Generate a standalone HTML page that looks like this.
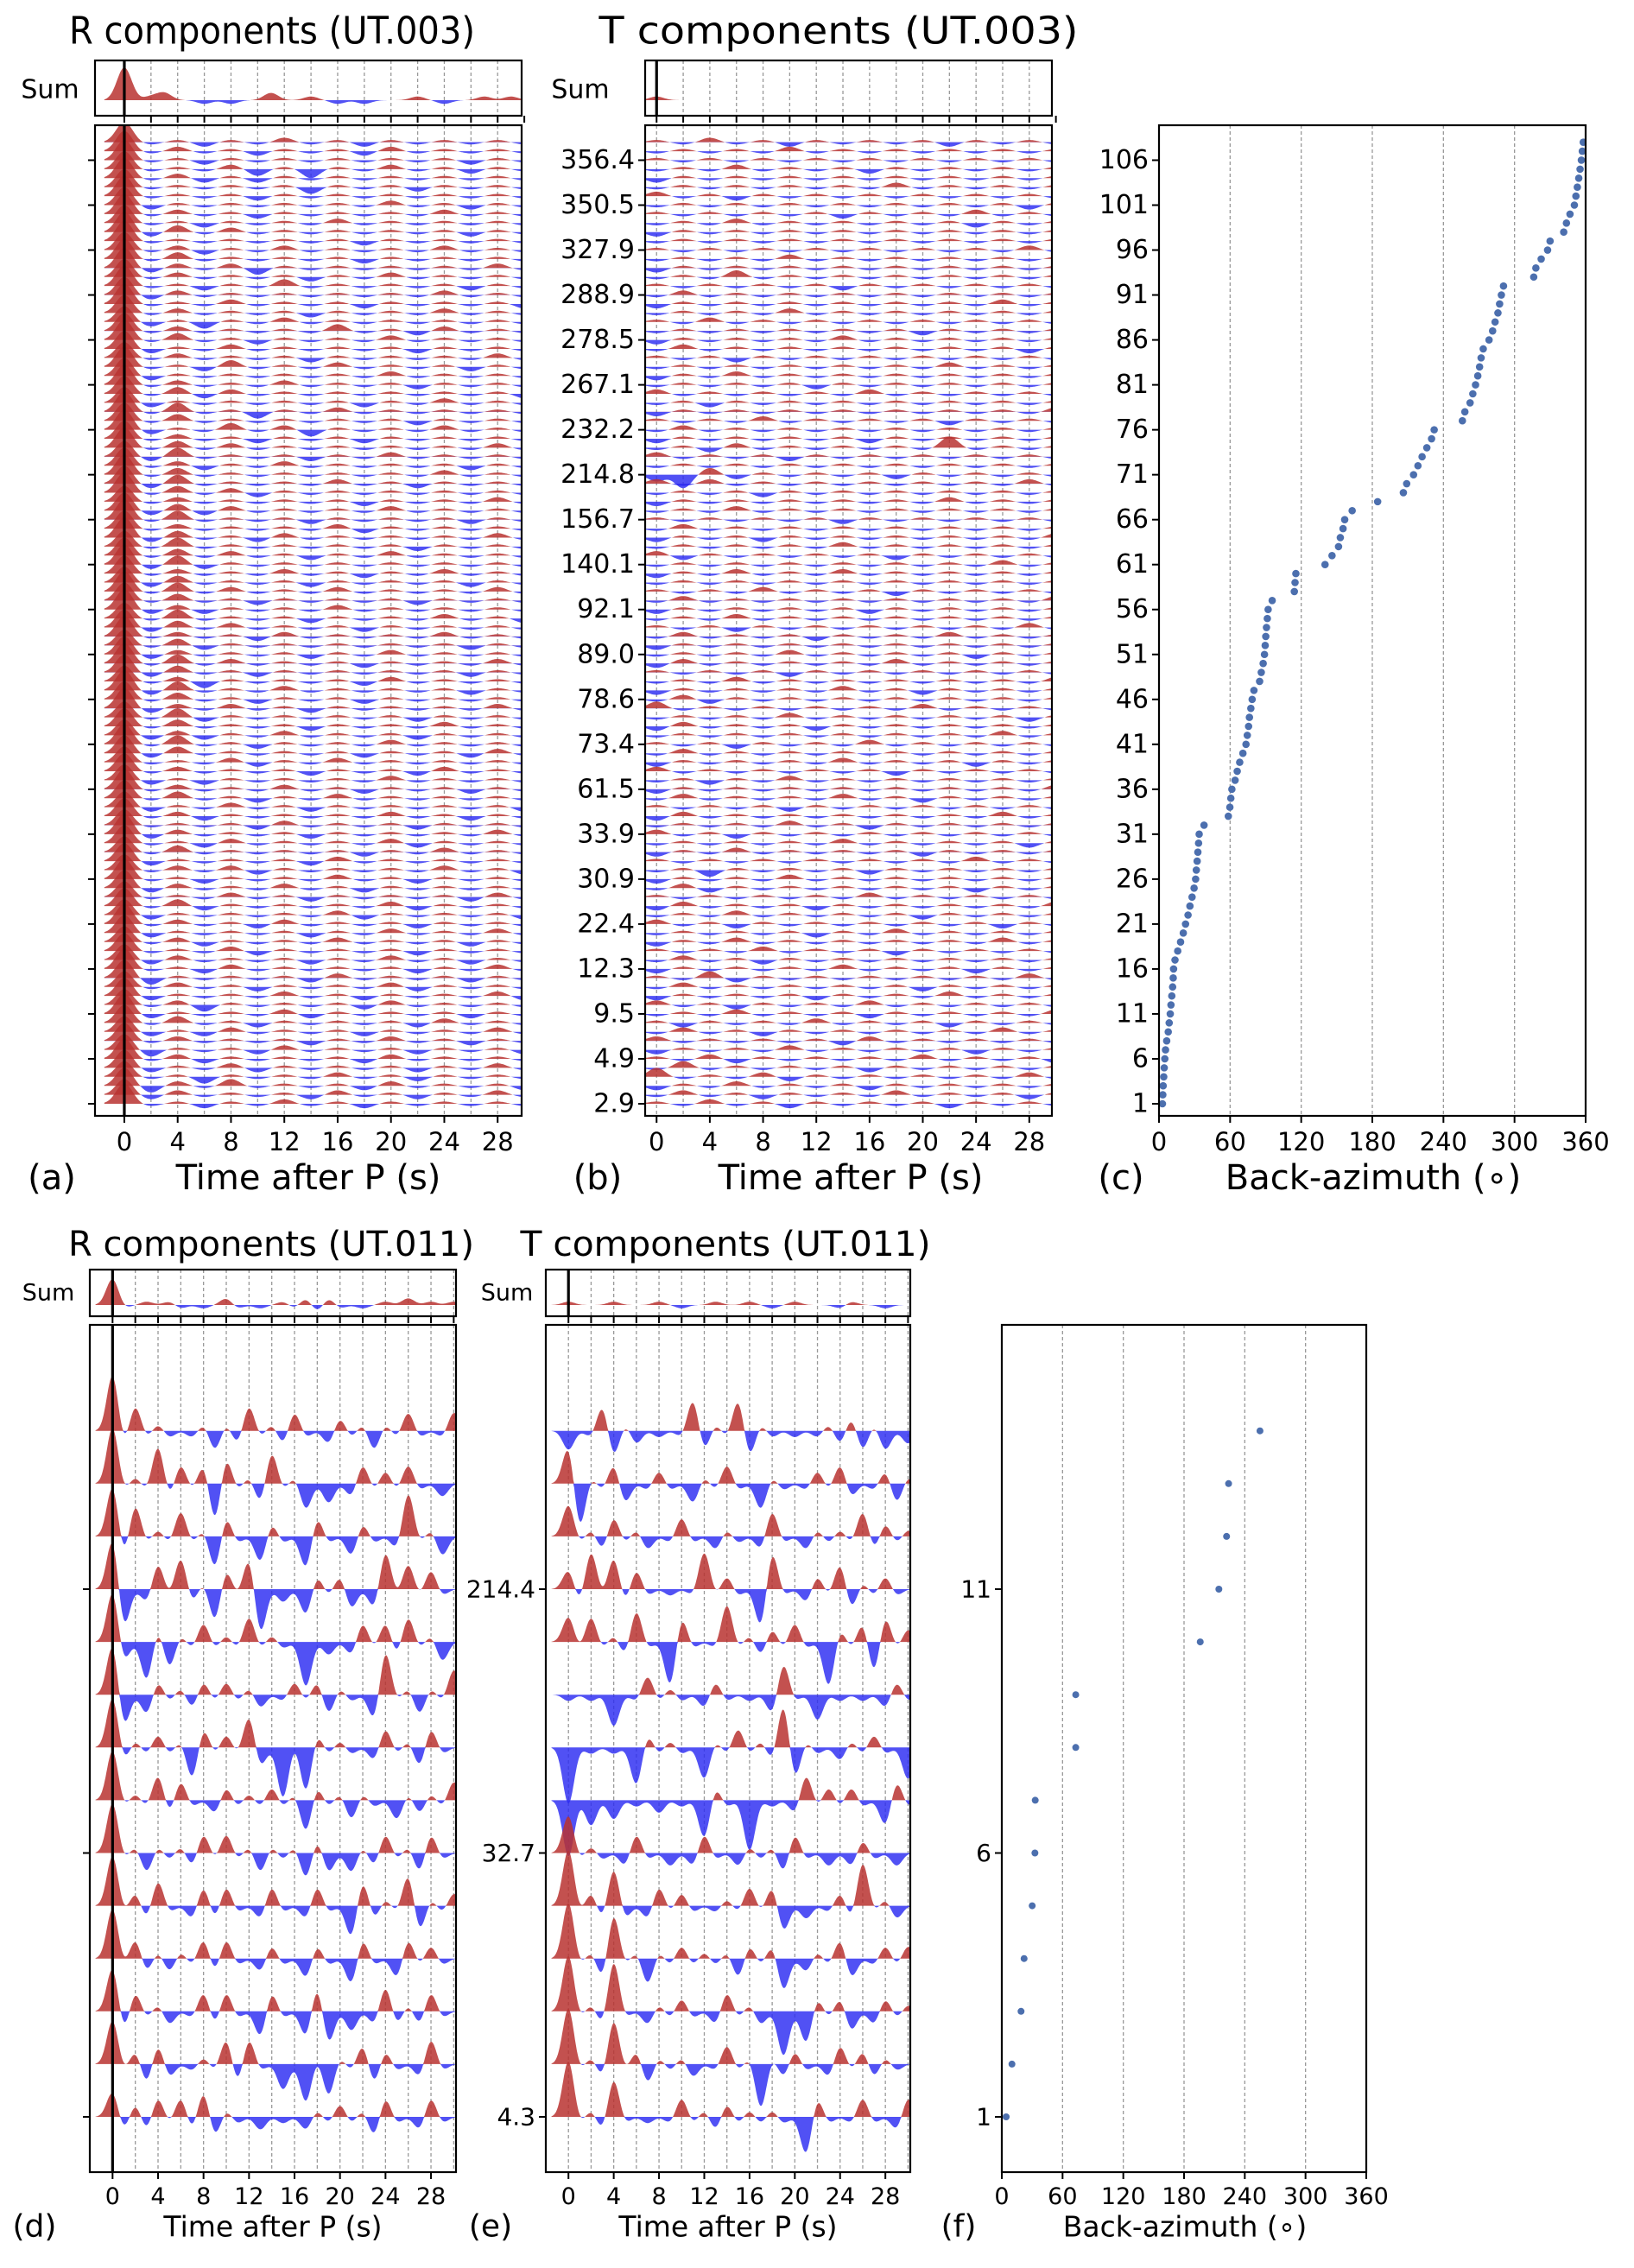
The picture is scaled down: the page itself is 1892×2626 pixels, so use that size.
<!DOCTYPE html>
<html><head><meta charset="utf-8">
<style>
html,body{margin:0;padding:0;background:#fff;}
svg{display:block;font-family:"DejaVu Sans","Liberation Sans",sans-serif;}
</style></head>
<body>
<svg id="fig" width="1892" height="2626" viewBox="0 0 1892 2626" xmlns="http://www.w3.org/2000/svg"></svg>
<script>
// ---------- DATA ----------
// Back-azimuths (deg) for UT.003 traces, index 1..N
const bazTop = [2.9,3.2,3.5,4.0,4.4, 4.9,5.5,6.5,7.8,8.6, 9.5,10.1,10.8,11.5,12.0,
 12.3,13.5,15.8,18.2,20.5, 22.4,24.5,26.1,27.9,29.6, 30.9,31.5,32.2,32.8,33.4,
 33.9,38.0,58.5,59.8,60.6, 61.5,64.2,66.0,68.1,70.8, 73.4,74.5,75.6,76.3,77.5,
 78.6,80.1,84.9,86.3,87.9, 89.0,89.6,90.1,90.7,91.4, 92.1,95.5,114.2,114.8,115.5,
 140.1,146.0,151.5,153.0,155.3, 156.7,163.0,184.5,206.2,209.0, 214.8,218.5,222.0,226.0,230.0,
 232.2,256.0,258.1,262.5,264.8, 267.1,269.0,270.5,271.8,273.6, 278.5,281.5,283.6,286.0,287.4,
 288.9,290.7,316.2,318.0,322.5, 327.9,330.0,341.5,343.8,346.8, 350.5,351.8,353.0,354.2,355.3,
 356.4,357.2,358.0];
// Back-azimuths for UT.011 traces
const bazBot = [4.3,10,19,22,30,32.7,33,73,73,196,214.4,222,224,255];
// Waveform codes: each char = pulse amplitude at grid time (0 none, 1-9 positive, a-i negative)
// UT.003 radial, 2 s grid (t=0,2,...,30), index 1..108
const rTop = ("9a1b1a2a1b1a1a1a 7b2a1a1b2a1b1a2a 8c2a3a1a1b2a1a1b 7a1c1a1a2a1b1a1a 8b1a2b1a1a1b1a2a "+
"9a2b1a1a1b2a1a1a 7c1a1b2a1a1b1a1b 8a2a1a1b1a2a1b1a 7b1b2a1a1b1a1a2a 8a3a1b1a1a1b2a1a "+
"9b1a1a2b1a1a1b1a 7a2c1a1a1b2a1a1a 8b1a1a2a1b1a1a2b 7a2a1b1a1a2b1a1a 8c1a1a1b2a1a1b1a "+
"9a1b2a1a1a1b1a2a 7b2a1a1b1a2a1b1a 8a1a2b1a1a1b1a1a 7a2b1a1a2a1a1b1a 8b1a1a1b1a2a1a2a "+
"9a2a1b2a1a1b1a1a 7b1a1a1a2b1a1a1b 8a3b1a1a1a2b1a1a 7a1a2a1b1a1a1b2a 8b2a1a2a1b1a1a1a "+
"9a1b1a1a2a1b1a1a 7a2a2b1a1a1a2a1b 8b1a1a1b2a1a1a1a 7a3a1a1a1b1a2a1a 8a1b2a1a1a2b1a1a "+
"9b2a1a1b1a1a1a2a 7a1a1b2a1a1b1a1a 8a2b1a1a1a2a1b1a 7b1a2a1b1a1a1a1b 8a3a1b1a2a1a1a1a "+
"9a2a1a2a1b1a1b1a 7b1b1a1a1a2a1a1a 8a2a1a1b1a1b2a1a 7a1a2b1a2a1a1a1a 8b3a1a1a1b1a1b2a "+
"9a4a1b1a1a2a1a1a 7b2b1a2a1a1b1a1a 8a3a1a1b1a1a2a1a 7a4b1a1a1a1b1a1a 9b2a2a1b1a1a1a2a "+
"8a3a1b1a1b1a1a1a 9b4a1a2a1a1a1b1a 7a2c1a1a1b2a1a1a 8b3a1b1a1a1a1b1a 9a4a2a1a1b1a1a2a "+
"8b2a1a1b1a2a1a1a 7a3b1a1a1a1a1b1a 9a2a1b2a1a1a2a1a 8b3a2a1a1b1a1a1a 7a4a1a1b1a1a2a1b "+
"9b2b1a1a2a1a1a1a 8a3a1b1a1a1b1a1a 9a4a2a1a2a1a1a2a 7b3a1a1b1a1a1b1a 8a2a1a2a1b1a2a1a "+
"9b4b1a1a1a1a1a1a 8a3a2a1b1a2a1a1a 7a4a1a1a1a1b1a1a 9b3a1b2a1a1a1a2a 8a2a1a1a2b1a1a1a "+
"9a4a1a1b1a1a1b1a 8b3b2a1a1a2a1a1a 7a2a1a1a1b1a1a2a 9a3a2b1a1a1a1a1a 8b4a1a1a2a1b1a1a "+
"9a3a1a1a1a1a2a1a 8a2b1a2a1a1a1b1a 7b4a1a1b1a2a1a1a 9a3a2a1a1a1a1a2a 8a2a1b1a1b1a1a1a "+
"9b1a3a2c1a1a2a1a 8a3a1a1a1a1b1a1a 9a4a1c1a2a1a1a1a 7b1a1a1a1b1a2a1a 8a3b2a1a1a1a1a1b "+
"9a2a1a2a1a1b1a1a 8b1a1a1a1a2a1a1a 9a1b3a1a2a1a1b1a 7a2a1a1b1a1a1a2a 8b1a2a1a1a1b1a1a "+
"9a3a1b1a1a2a1a1a 8a2a1a1a3a1b2a1a 7b1c1a2a1a1a1a1a 8a2a1a1b1a1a2a1a 9a1a2a1a1b1a1a1b "+
"8b2a1a1a1a1a2a1a 9a1b1a3a1a1a1b1a 8a2a1a1b1a2a1a1a 9b2a2c1a1a1a1a2a 9a3a1a1a1b1a1a1a "+
"8a2b1a2a1a1a2a1a 9a1a1a1a1b1a1a1a 9b3a2a1a1a1a1b1a 8a1b1a1a2a1a1a1a 9a2a1b1a1a1a2a1a "+
"8b1a1a1a1a2a1b1a 9a1a1b1a1a1a1a1a 8a1a1a1c1a1b1a1a 9a2b1b1a1a1a1a1a 8a1a2c1d1a2a1b1a "+
"9a1b1a1a1a1a1b1a 9a2a1b1a1b2a1a1a").split(' ');
// UT.003 transverse, 2 s grid
const tTop = ("1a2a1b1a1a1b1a1a a2a1b1a1a2a1a1b1 b1a2a1a1b1a1a1a1 4a1a2b1a1a1a1a2a a3a1a1a1b1a1a1a1 "+
"1a2b1a1a1a2a1a1b b1a1a2a1a1a1b1a1 2a1a1a1b2a1a1a1a a2a1b1a1a1a1a2a1 1b1a1a2a1a1b1a1a "+
"a1a2a1a1b1a1a1a2 2a1b1a1a2a1a1a1a b1a1a1b1a1a2a1a1 a2a1a1a1a1b1a1a1 1a3b1a1a1a1a1a2a "+
"b1a1a1a2a1a1b1a1 a2a1b1a1a1a1a1a1 1a1a2a1a1b1a1a1a b1a2a1a1a1a1a2a1 a1a1a1b1a2a1a1a1 "+
"2a1b1a1a1a1a1b1a a1a2a1a1a1b1a1a1 b2a1a1b1a1a1a1a2 1a1a1a1a2a1a1a1a a2b1a1a1a1a1b1a1 "+
"b1a1a2a1a1a1a1a1 a1c1a1a1b1a1a1a1 1a1a1a1a1a1a2a1a b1a2a1a1a1b1a1a1 a1a1a1a2a1a1a1b1 "+
"2a1b1a1a1a1a1a1a a1a1a2a1b1a1a1a1 b2a1a1a1a1a1a2a1 1a1a1b1a1a1a1a1a a2a1a1a2a1b1a1a1 "+
"b1a1a1a1a1a1a1a2 a1b1a2a1a1a1a1a1 2a1a1a1a1b1a1a1a b1a1a1a2a1a1b1a1 a2a1a1a1a1a1a1a1 "+
"1a1b1a1a2a1a1a1a a1a1a1a1a1a1a2a1 b2a1a1b1a1a1a1a1 a1a1a2a1a1a1a1b1 3a1a1a1a1a2a1a1a "+
"a2b1a1a1a1a1a1a1 b1a1a1a2a1b1a1a1 a1a2a1a1a1a1a1a2 1a1a1b1a1a1a1a1a b2a1a1a1a2a1a1a1 "+
"a1a1a2a1a1a1b1a1 b1a1a1a1a1a1a1a1 a2a1a1b1a1a2a1a1 1a1b1a1a1a1a1a2a a1a2a1a1a1a1a1a1 "+
"b1a1a1a1b1a1a1a1 a2a1a1a1a1a1a1a2 1a1a2a1a1b1a1a1a a1a1a1a1a1a1a1a1 b1a2a1a2a1a1a1a1 "+
"a1a1a1a1a1a1a2a1 2b1a1a1a1b1a1a1a a1a1a1a2a1a1a1a1 b1a1b1a1a1a1a1a2 a2a1a1a1a1a1a1a1 "+
"1a1a1a1b1a1a1a1a a1a2a1a1a1a1a1a1 b1a1a1a1a1a2a1a1 a1a1b1a1a1a1a1a1 2a2a1a1a1a1a1a2a "+
"cf3b1a1a1b1a1a1a a1a1a1a1a1a1a1a1 2a1a1b1a1a1a1a1a a1b2a1a1a1a5a1a1 b1a1a1a1b1a1a1a1 "+
"a2a1a1a1a1a1a1a1 1a1a2a1a1a1b1a1a b1a1a1a1a1a1a1a2 a1b1a1a1a1a1a1a1 2a1a1a1a2a1a1a1a "+
"a1a1a1b1a1a1a1a1 b1a2a1a1a1a1a1a1 a1a1a1a1a1a2a1a1 1a1b1a1a1a1a1a1a a2a1a1a1a1a1a1b1 "+
"b1a1a1a2a1a1a1a1 a1a1a1a1a1b1a1a1 1a2a1a1a1a1a1a1a a1a1a2a1a1a1a1a1 b1a1a1a1a1a1a2a1 "+
"a2a1a1a1a1a1a1a1 1a1a1a1b1a1a1a1a a1a3a1a1a1a1a1a1 b1a1a1a1a1a1a1a1 a1a1a2a1a1a1a1a1 "+
"1a1a1a1a1a1a1a2a a1a1a1a1a1a1a1a1 b1a1a1a1a1a1a1a1 a1a2a1a1a1a1b1a1 1a1a1a1b1a1a2a1a "+
"a1a1a1a1a1a1a1b1 2a1b1a1a1a1a1a1a a1a1a1a1a2a1a1a1 b1a1a1a1a1a1a1a1 a1a2a1a1b1a1a1a1 "+
"1a1a1a1a1a1a1a1a a1a1a2a1a1a1a1a1").split(' ');
// UT.011 radial, 1 s grid (t=0..30), index 1..14
const rBot = ["4b2b3a3b4c1a0b0a0b1a2a1c3a0b3a0",
 "7a2c3b0a1a4c4a0d0f1e1a3c2a0b4a0",
 "7c3a1b0a3b3a0d3a0d4e0c0b4b1b3a0",
 "8a3b1b1a3b3a0b2a0c2a0d3a0c3a2a0",
 "8a2b4a0b3b3a0b3a0b3a0e4b1a5d1a2",
 "8a1c1a1b3a3a1c1a1d2c0c1b3a1c3a0",
 "8a1a4b3a0b2a1a2a1e2a1c1a0c1b1a3",
 "8b1a2a1e3a2a5c0h1g2a1a0b3a1c3a0",
 "8e0c2a1b2a2a1b0a2a2c1a0d7a1c1a4",
 "8c0f2d1a3a1a4a1a0g0b0b3a3b4a1c0",
 "8f0b4a5b1e3a5g0b0d2a2c0c6a4a3a0",
 "8c5a1a4a1e3a0d2a0e3a0c2a0b7a1c0",
 "9a1a6b3a3f4a1c5a1d0c0b3a2a3a0b0",
 "9b4a1a0a1c1b4a1b3a0b2a1c1a3a0a3"];
// UT.011 transverse, 1 s grid
const tBot = ["9a1b6a0a0a3a1b2a1a1a0f3a0a3a0b3",
 "9a1b7a2c1a1b0a3a1g1b2a0b3a2b1a0",
 "9a1b8a0b1a2a0b3a1b0g0e2a2c0b2a1",
 "9a1c7a1d1a2a1a1c2a2e0b1a3c0a2a2",
 "9a2b6b0b3a2a0a1a3a3d0b0a2b7a1b0",
 "6a1a0b3a0b0b3a0b1a1c3a0b0b2a0b0",
 "i0d0c0a0b0a0f2a0h0a0b4a2a2a0d3a",
 "i0a0a0f2a1a0e1a3a1b7e1a0b1a2a0e",
 "a0a0e0a3a1a0b2a0a0c5a0d0a0a0b2a",
 "4a4a1b5a0g4a0a6a1b2a3a0g2a3e4a2",
 "3b6a5b3a0a0a6a2a0f6a0b2a4c1a2a0",
 "5a1b3a1b0a3a0b1a0b4a0b1a1a4b2a1",
 "6g1a3c0a2a0c1a3a0d1a0a2a3b0a2c1",
 "c0a4d1b0a0a5c1a5d1a0a0a1b2c1c0b"];
// Stack (sum) traces, 1 s grid
const sumRTop = "901200a0a0020010a0a00010a001010";
const sumTTop = "1000000000000000000000000000000";
const sumRBot = "8a0101a0a02a0a01a2b2a0a01020101";
const sumTBot = "1000100010a0010010a01000a100a00";
const timeTicks = [0,4,8,12,16,20,24,28];
const bazTicks = [0,60,120,180,240,300,360];

// ---------- HELPERS ----------
const NS = "http://www.w3.org/2000/svg";
const fig = document.getElementById('fig');
function mk(tag, attrs, parent){
  const e = document.createElementNS(NS, tag);
  for (const k in attrs) e.setAttribute(k, attrs[k]);
  (parent||fig).appendChild(e);
  return e;
}
function code(ch){
  if (ch>='0' && ch<='9') return +ch;
  return -(ch.charCodeAt(0)-96);
}
function waveFn(str, step, sigma){
  const p = [];
  for (let i=0;i<str.length;i++){ const a=code(str[i]); if(a) p.push([i*step,a]); }
  return t => { let s=0; for (const q of p){ const d=t-q[0]; s+=q[1]*Math.exp(-d*d/(2*sigma*sigma)); } return s; };
}
let clipId = 0;
function axes(P){
  const g = mk('g', {});
  
  
  const cid = 'clip'+(clipId++);
  const cp = mk('clipPath', {id:cid}, g);
  mk('rect', {x:P.x0, y:P.y0, width:P.x1-P.x0, height:P.y1-P.y0}, cp);
  P.sx = v => P.x0 + (v-P.xmin)/(P.xmax-P.xmin)*(P.x1-P.x0);
  P.sy = v => P.y1 - (v-P.ymin)/(P.ymax-P.ymin)*(P.y1-P.y0);
  const inner = mk('g', {'clip-path':'url(#'+cid+')'}, g);
  P.g = g; P.inner = inner;
  return P;
}
function grid(P, vals){
  for (const v of vals){
    const l = mk('line', {x1:P.sx(v), x2:P.sx(v), y1:P.y0, y2:P.y1, stroke:'#999', 'stroke-width':1.3, 'stroke-dasharray':'4,3'}, P.inner);
    
    
  }
}
function frame(P){
  const r = mk('rect', {x:P.x0, y:P.y0, width:P.x1-P.x0, height:P.y1-P.y0, fill:'none', stroke:'#000', 'stroke-width':2.2}, P.g);
  
  
}
function trace(P, str, step, sigma, base, unit, name){
  const f = waveFn(str, step, sigma);
  const t0 = P.tStart, t1 = P.xmax;
  const yb = base;
  let ptsP = [], ptsN = [];
  for (let t=t0; t<=t1+0.001; t+=0.08){
    const v = f(t);
    ptsP.push([P.sx(t), yb - Math.max(v,0)*unit]);
    ptsN.push([P.sx(t), yb - Math.min(v,0)*unit]);
  }
  const x0 = P.sx(t0), x1 = P.sx(t1);
  const pos = 'M'+x0+','+yb+' L'+ptsP.map(p=>p[0].toFixed(1)+','+p[1].toFixed(1)).join(' ')+' L'+x1+','+yb+' Z';
  const neg = 'M'+x0+','+yb+' L'+ptsN.map(p=>p[0].toFixed(1)+','+p[1].toFixed(1)).join(' ')+' L'+x1+','+yb+' Z';
  const a = mk('path', {d:pos, fill:'#b83230', 'fill-opacity':0.85}, P.inner);
  
  
  const b = mk('path', {d:neg, fill:'#2b2bf2', 'fill-opacity':0.82}, P.inner);
  
  
}
function text(str, x, y, size, anchor, name, extra){
  const t = mk('text', Object.assign({x:x, y:y, 'font-size':size, 'text-anchor':anchor||'middle', 'dominant-baseline':'central', fill:'#000'}, extra||{}));
  t.textContent = str;
  
  
  return t;
}
function xticks(P, vals, fs, labels){
  for (const v of vals){
    const x = P.sx(v);
    const l = mk('line', {x1:x, x2:x, y1:P.y1, y2:P.y1+8, stroke:'#000', 'stroke-width':2}, P.g);
    
    
    if (labels) text(String(v), x, P.y1+8+fs*0.75, fs, 'middle', 'x-tick-label');
  }
}
function yticks(P, idxs, labels, fs){
  idxs.forEach((v,k)=>{
    const y = P.sy(v);
    const l = mk('line', {x1:P.x0-8, x2:P.x0, y1:y, y2:y, stroke:'#000', 'stroke-width':2}, P.g);
    
    
    if (labels) text(labels[k], P.x0-12, y, fs, 'end', 'y-tick-label');
  });
}
function zeroLine(P){
  const l = mk('line', {x1:P.sx(0), x2:P.sx(0), y1:P.y0, y2:P.y1, stroke:'#000', 'stroke-width':3.2}, P.inner);
  
  
}

// ---------- TOP ROW (UT.003) ----------
const N = bazTop.length;
const topIdx = [], topLab = [];
for (let i=1;i<=N;i+=5){ topIdx.push(i); topLab.push(bazTop[i-1].toFixed(1)); }
const timeGrid = []; for (let v=0; v<=30; v+=2) timeGrid.push(v);

function topWave(name, xa, xb, tmin, tmax, data, sumData, isR, labelY){
  const S = axes({name:name+'-sum-axes', x0:xa, x1:xb, y0:70, y1:134, xmin:tmin, xmax:tmax, ymin:0, ymax:1, tStart:-1.5});
  grid(S, timeGrid);
  trace(S, sumData, 1, 0.55, 116, 4.2, 'sum-trace');
  zeroLine(S);
  frame(S);
  xticks(S, timeGrid, 0, false);
  const P = axes({name:name+'-axes', x0:xa, x1:xb, y0:145, y1:1292, xmin:tmin, xmax:tmax, ymin:1-(1292-1278)/10.405, ymax:1+(1278-145)/10.405, tStart:-1.5});
  grid(P, timeGrid);
  for (let i=N;i>=1;i--){
    trace(P, data[(i-1)%data.length], 2, 0.62, P.sy(i), 2.6, 'trace-'+i);
  }
  if (isR) zeroLine(P);
  frame(P);
  xticks(P, timeTicks, 29, true);
  yticks(P, topIdx, labelY ? topLab : null, 30);
  return P;
}
topWave('r-ut003', 110, 604, -2.2, 29.8, rTop, sumRTop, true, false);
topWave('t-ut003', 747, 1218, -0.86, 29.7, tTop, sumTTop, false, true);
text('Sum', 58, 104, 30, 'middle', 'sum-label-a');
text('Sum', 672, 104, 30, 'middle', 'sum-label-b');
text('R components (UT.003)', 315, 36, 44, 'middle', 'title-r-ut003', {textLength:470, lengthAdjust:'spacingAndGlyphs'});
text('T components (UT.003)', 971, 36, 44, 'middle', 'title-t-ut003', {textLength:555, lengthAdjust:'spacingAndGlyphs'});
text('Time after P (s)', 357, 1364, 40, 'middle', 'x-axis-title-a');
text('Time after P (s)', 985, 1364, 40, 'middle', 'x-axis-title-b');
text('(a)', 60, 1364, 40, 'middle', 'panel-label-a');
text('(b)', 692, 1364, 40, 'middle', 'panel-label-b');

// panel c
const pc = axes({name:'baz-ut003-axes', x0:1342, x1:1836, y0:145, y1:1292, xmin:0, xmax:360, ymin:1-(1292-1278)/10.405, ymax:1+(1278-145)/10.405});
grid(pc, [60,120,180,240,300]);
bazTop.forEach((b,k)=>{
  const c = mk('circle', {cx:pc.sx(b), cy:pc.sy(k+1), r:4.3, fill:'#4c6fae'}, pc.inner);
  
  
});
frame(pc);
xticks(pc, bazTicks, 29, true);
yticks(pc, topIdx, topIdx.map(String), 30);
text('Back-azimuth (∘)', 1590, 1364, 40, 'middle', 'x-axis-title-c');
text('(c)', 1298, 1364, 40, 'middle', 'panel-label-c');

// ---------- BOTTOM ROW (UT.011) ----------
const M = rBot.length;
const botIdx = [1,6,11];
function botWave(name, xa, xb, data, sumData, isR, labelY){
  const S = axes({name:name+'-sum-axes', x0:xa, x1:xb, y0:1470, y1:1524, xmin:-2.0, xmax:30.2, ymin:0, ymax:1, tStart:-1.5});
  grid(S, timeGrid);
  trace(S, sumData, 1, 0.55, 1511, 3.8, 'sum-trace');
  zeroLine(S);
  frame(S);
  xticks(S, timeGrid, 0, false);
  const P = axes({name:name+'-axes', x0:xa, x1:xb, y0:1534, y1:2515, xmin:-2.0, xmax:30.2, ymin:1-(2515-2451)/61.1, ymax:1+(2451-1534)/61.1, tStart:-1.5});
  grid(P, timeGrid);
  for (let i=M;i>=1;i--){
    trace(P, data[i-1], 1, 0.5, P.sy(i), 7.2, 'trace-'+i);
  }
  if (isR) zeroLine(P);
  frame(P);
  xticks(P, timeTicks, 27, true);
  yticks(P, botIdx, labelY ? botIdx.map(i=>bazBot[i-1].toFixed(1)) : null, 28);
  return P;
}
botWave('r-ut011', 104, 528, rBot, sumRBot, true, false);
botWave('t-ut011', 632, 1054, tBot, sumTBot, false, true);
text('Sum', 56, 1497, 27, 'middle', 'sum-label-d');
text('Sum', 587, 1497, 27, 'middle', 'sum-label-e');
text('R components (UT.011)', 314, 1441, 40, 'middle', 'title-r-ut011', {textLength:470, lengthAdjust:'spacingAndGlyphs'});
text('T components (UT.011)', 840, 1441, 40, 'middle', 'title-t-ut011', {textLength:475, lengthAdjust:'spacingAndGlyphs'});
text('Time after P (s)', 316, 2578, 33, 'middle', 'x-axis-title-d');
text('Time after P (s)', 843, 2578, 33, 'middle', 'x-axis-title-e');
text('(d)', 40, 2578, 36, 'middle', 'panel-label-d');
text('(e)', 568, 2578, 36, 'middle', 'panel-label-e');

const pf = axes({name:'baz-ut011-axes', x0:1160, x1:1582, y0:1534, y1:2515, xmin:0, xmax:360, ymin:1-(2515-2451)/61.1, ymax:1+(2451-1534)/61.1});
grid(pf, [60,120,180,240,300]);
bazBot.forEach((b,k)=>{
  const c = mk('circle', {cx:pf.sx(b), cy:pf.sy(k+1), r:4, fill:'#4c6fae'}, pf.inner);
  
  
});
frame(pf);
xticks(pf, bazTicks, 27, true);
yticks(pf, botIdx, botIdx.map(String), 28);
text('Back-azimuth (∘)', 1372, 2578, 33, 'middle', 'x-axis-title-f');
text('(f)', 1110, 2578, 36, 'middle', 'panel-label-f');
</script>
</body></html>
